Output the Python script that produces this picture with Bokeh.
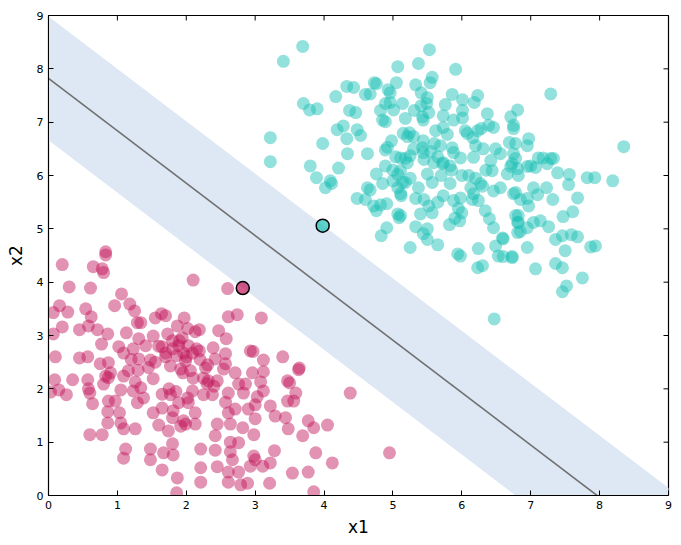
import numpy as np
from bokeh.plotting import figure
from bokeh.models import Range1d, FixedTicker
from bokeh.embed import file_html
from bokeh.resources import INLINE

red_pts = [
(0.20,4.33),(0.83,4.57),(0.83,4.51),(0.65,4.29),(0.78,4.25),(0.80,4.18),
(2.10,4.04),(2.60,3.88),(0.30,3.91),(0.61,3.89),
(1.06,3.78),(0.96,3.56),(1.18,3.59),(0.16,3.56),(0.07,3.43),(0.28,3.44),(0.54,3.50),(0.62,3.35),(1.25,3.46),(1.29,3.24),(1.34,3.24),(1.55,3.33),(1.64,3.41),(1.70,3.37),(1.97,3.33),
(2.61,3.35),(2.74,3.39),(3.09,3.33),(2.47,3.09),(2.58,2.94),(2.19,3.11),(2.13,3.07),(2.19,2.71),(2.39,2.77),(2.57,2.66),(2.93,2.71),(2.97,2.70),(3.12,2.54),(3.40,2.60),(3.64,2.39),(2.31,2.45),(2.42,2.56),(2.57,2.47),
(0.20,3.16),(0.07,3.03),(0.45,3.11),(0.58,3.18),(0.71,3.11),(0.86,3.03),(1.13,3.05),(1.31,2.94),(1.52,2.99),(0.77,2.84),(1.02,2.79),(1.09,2.67),(1.23,2.75),(1.41,2.81),(1.65,2.79),(1.73,3.03),(1.87,3.18),(1.94,2.96),(2.02,3.13),(0.10,2.60),(0.45,2.58),(0.57,2.60),(0.75,2.47),(0.87,2.49),(1.31,2.56),(1.48,2.54),
(1.80,2.90),(1.89,2.81),(1.96,2.67),(2.03,2.81),(1.86,2.62),(1.99,2.52),(1.77,2.43),(2.09,2.67),(1.92,2.37),(1.70,2.67),
(0.09,2.17),(0.35,2.17),(0.57,2.17),(0.03,1.94),(0.15,1.98),(0.26,1.89),(0.58,2.00),(0.60,1.92),(0.64,1.72),(0.80,2.09),(0.83,2.24),(0.87,2.21),(0.90,2.30),(1.05,1.98),(1.09,2.24),(1.16,2.34),(1.26,2.13),(1.23,1.96),(1.34,2.02),(1.38,1.83),(1.29,1.74),(1.52,2.19),(0.87,1.77),(0.97,1.77),(0.86,1.57),(1.03,1.55),(0.86,1.36),(1.05,1.36),(1.09,1.25),(1.26,1.25),(0.60,1.14),(0.78,1.14),(1.12,0.87),(1.09,0.70),(1.48,0.87),(1.48,0.67),(1.65,0.48),(1.80,0.97),(1.67,0.80),(1.81,0.76),(1.87,0.33),(1.86,0.05),(1.52,1.55),(1.65,1.64),(1.81,1.59),(1.77,1.89),(1.80,1.46),(1.60,1.32),(1.74,1.21),(1.89,1.74),(1.92,1.30),(1.96,1.40),(2.02,1.83),
(2.06,2.34),(2.28,2.39),(2.54,2.37),(2.71,2.30),(2.96,2.30),(3.12,2.32),(3.63,2.36),(2.32,2.15),(2.45,2.15),(2.76,2.09),(2.86,2.09),(3.08,2.13),(3.47,2.15),(3.50,2.11),(2.09,1.96),(2.25,1.89),(2.38,1.89),(2.61,1.92),(2.83,1.92),(3.03,1.85),(3.12,1.96),(3.47,1.77),(3.56,1.77),(3.59,1.92),(2.03,1.74),(2.13,1.55),(2.57,1.75),(2.61,1.55),(2.71,1.62),(2.90,1.62),(3.00,1.70),(3.22,1.68),(3.29,1.49),(3.44,1.46),(1.99,1.34),(2.13,1.34),(2.45,1.34),(2.64,1.34),(2.82,1.27),(3.00,1.44),(3.48,1.25),(3.69,1.12),(3.77,1.40),(3.85,1.27),(4.05,1.32),(2.42,1.12),(2.98,1.14),(2.21,0.87),(2.42,0.85),(2.64,1.00),(2.76,0.99),(2.64,0.82),(2.67,0.67),(2.98,0.74),(3.00,0.67),(3.28,0.84),(3.22,0.61),(3.11,0.55),(2.93,0.55),(2.76,0.44),(2.61,0.44),(2.45,0.54),(2.21,0.52),(2.21,0.25),(2.61,0.25),(2.79,0.20),(2.89,0.23),(3.21,0.23),(3.54,0.42),(3.77,0.44),(3.88,0.80),(4.12,0.61),(3.85,0.07),
(4.38,1.92),(4.95,0.80),
(1.75,2.00),(1.85,1.95),(2.30,2.10),(2.25,2.20),(2.40,2.05),(2.10,2.20),(1.95,2.30),(1.65,1.90),(2.00,2.60),(2.20,2.55),(1.60,2.80),(1.70,2.60),(1.45,2.40),(1.55,2.50),(1.30,2.35),(1.20,2.55),(2.15,2.75),(1.90,2.90),(1.80,2.75),
]

teal_pts = [
(3.69,8.42),(3.41,8.14),(5.07,8.04),(4.73,7.74),(4.76,7.72),(5.05,7.74),(4.33,7.67),(4.43,7.65),(4.17,7.48),(4.60,7.52),(4.67,7.53),(4.93,7.61),(4.96,7.55),(3.70,7.35),(3.79,7.23),(3.90,7.25),(4.37,7.22),(4.46,7.18),(4.82,7.22),(4.89,7.35),(4.96,7.37),(5.01,7.23),(5.14,7.35),(4.85,7.04),(4.89,7.01),(5.18,7.07),(4.19,6.86),(4.28,6.93),(4.48,6.86),(4.53,6.75),(4.33,6.69),(3.98,6.60),(3.22,6.71),(5.15,6.79),(5.21,6.73),(4.98,6.65),(4.92,6.53),(4.89,6.48),(4.34,6.41),(4.63,6.41),(5.04,6.35),(5.11,6.33),(3.22,6.26),(3.80,6.18),(4.21,6.14),(4.89,6.18),(4.76,6.03),(5.11,6.09),(5.07,6.02),(3.89,5.96),(4.09,5.90),(5.21,6.24),
(4.02,5.77),(4.11,5.85),(4.48,5.57),(4.63,5.77),(4.67,5.73),(4.60,5.55),(4.72,5.43),(4.76,5.34),(4.82,5.45),(4.91,5.47),(5.07,5.77),(5.12,5.62),(5.07,5.28),(5.09,5.21),(4.91,5.02),(4.83,4.87),(5.25,4.65),(5.14,5.87),
(5.53,8.36),(5.37,8.10),(5.91,7.99),(5.57,7.84),(5.54,7.74),(5.33,7.70),(5.41,7.55),(5.50,7.46),(5.86,7.52),(6.01,7.42),(6.23,7.50),(6.18,7.37),(6.37,7.16),(6.71,7.10),(6.81,7.23),(5.31,7.22),(5.41,7.31),(5.49,7.35),(5.43,7.10),(5.52,7.18),(5.44,7.04),(5.76,7.33),(5.73,7.12),(5.88,7.04),(6.01,7.22),(6.01,7.08),(5.62,6.84),(5.73,6.90),(5.79,6.77),(6.05,6.84),(6.23,6.84),(6.28,6.88),(6.39,6.94),(6.46,6.90),(6.75,6.94),(6.78,6.60),(6.69,6.62),(5.24,6.80),(5.30,6.73),(5.44,6.65),(5.43,6.52),(5.44,6.43),(5.69,6.56),(5.86,6.52),(5.88,6.43),(5.98,6.33),(6.08,6.79),(6.16,6.71),(6.20,6.56),(6.31,6.50),(6.49,6.50),(6.56,6.41),(6.75,6.41),(6.78,6.32),(6.17,6.34),(6.42,6.28),(5.18,6.32),(5.65,6.35),(5.73,6.24),(5.59,6.24),(5.83,6.18),
(5.25,6.37),(5.18,5.87),(5.11,5.66),(5.33,5.57),(5.37,5.77),(5.57,5.87),(5.50,6.03),(5.72,6.22),(5.83,5.85),(5.73,5.62),(5.88,5.53),(5.98,5.58),(5.95,5.38),(5.40,5.28),(5.52,5.43),(5.57,5.30),(5.11,5.25),(5.33,5.04),(5.50,5.00),(5.44,4.91),(5.50,4.80),(5.65,4.70),(5.82,5.08),(5.97,5.15),(6.10,6.00),(6.13,5.77),(6.17,5.66),(6.24,5.53),(6.27,5.85),(6.34,5.34),(6.40,5.19),(6.46,5.02),(6.44,6.09),(6.46,5.71),(6.56,5.77),(6.78,5.68),(6.73,6.22),(6.81,6.13),(6.66,6.03),(6.78,5.25),(6.81,5.12),(6.81,4.93),(6.59,4.83),(6.49,4.68),(6.53,4.49),(6.73,4.48),(6.24,4.63),(5.94,4.53),(5.98,4.49),(6.23,4.27),(6.30,4.31),(6.47,3.31),
(7.29,7.53),(6.75,6.88),(6.97,6.69),(6.95,6.56),(8.35,6.54),(7.11,6.33),(7.18,6.33),(7.29,6.32),(7.33,6.32),(7.24,6.22),(7.07,6.15),(6.95,6.17),(6.71,6.17),(7.39,6.05),(7.56,6.02),(7.82,5.96),(7.93,5.96),(8.19,5.90),
(6.82,6.00),(7.00,6.18),(7.55,5.83),(6.75,5.66),(6.85,5.55),(6.95,5.57),(6.97,5.43),(7.04,5.77),(7.10,5.64),(7.23,5.77),(7.32,5.55),(7.68,5.58),(7.61,5.32),(7.47,5.23),(6.82,5.25),(6.82,5.12),(7.04,5.12),(7.14,5.15),(7.26,5.04),(6.85,4.95),(6.95,5.02),(6.60,4.81),(7.36,4.80),(7.46,4.87),(7.59,4.89),(7.68,4.85),(7.87,4.66),(7.94,4.68),(7.50,4.59),(6.95,4.65),(6.60,4.48),(6.73,4.46),(7.07,4.25),(7.36,4.35),(7.46,4.27),(7.75,4.08),(7.52,3.93),(7.46,3.82),
(5.45,6.30),(5.55,6.45),(5.60,6.60),(5.30,6.50),(5.70,6.00),(5.85,6.10),(6.00,6.00),(6.20,5.95),(6.35,6.10),(6.30,5.80),(6.15,5.55),(6.00,5.30),(5.90,5.20),(5.65,5.50),(5.45,5.55),(5.25,5.95),(5.00,5.90),(4.85,5.85),(5.00,6.10),
]

red_x = [p[0] for p in red_pts]
red_y = [p[1] for p in red_pts]
teal_x = [p[0] for p in teal_pts]
teal_y = [p[1] for p in teal_pts]

sv_red = (2.82, 3.89)
sv_teal = (3.98, 5.06)

slope = -0.982          # decision boundary slope
intercept_mid = 7.82    # y-intercept of decision boundary
intercept_up = 8.98     # margin through teal support vector
intercept_low = 6.66    # margin through red support vector

ticks = list(range(0, 10))
x_max = 9
y_max = 9

RED = "#C2185B"
TEAL = "#19C0B4"
FONT = "DejaVu Sans"

p = figure(width=676, height=541, output_backend="svg", toolbar_location=None,
           x_range=Range1d(0, x_max), y_range=Range1d(0, y_max),
           min_border_left=48, min_border_right=8, min_border_top=15, min_border_bottom=46)
p.grid.visible = False
p.outline_line_color = "black"
p.outline_line_width = 1.2
p.background_fill_color = "white"

bx = np.array([0.0, 9.6])
p.varea(x=bx, y1=intercept_low + slope * bx, y2=intercept_up + slope * bx,
        fill_color="#dee8f4", fill_alpha=1.0)
p.line(bx, intercept_mid + slope * bx, line_color="#707070", line_width=1.6)

p.scatter(red_x, red_y, size=13, fill_color=RED, fill_alpha=0.47, line_color=None)
p.scatter(teal_x, teal_y, size=13, fill_color=TEAL, fill_alpha=0.47, line_color=None)
p.scatter([sv_red[0]], [sv_red[1]], size=13, fill_color=RED, fill_alpha=0.7,
          line_color="black", line_width=1.5)
p.scatter([sv_teal[0]], [sv_teal[1]], size=13, fill_color=TEAL, fill_alpha=0.7,
          line_color="black", line_width=1.5)

# inward ticks on the top and right edges (classic style)
p.ray(x=ticks, y=[y_max] * len(ticks), length=5, length_units="screen",
      angle=-np.pi / 2, line_color="black", line_width=1)
p.ray(x=[x_max] * len(ticks), y=ticks, length=5, length_units="screen",
      angle=np.pi, line_color="black", line_width=1)

for ax in (p.xaxis[0], p.yaxis[0]):
    ax.ticker = FixedTicker(ticks=ticks)
    ax.major_tick_in = 5
    ax.major_tick_out = 0
    ax.minor_tick_line_color = None
    ax.axis_line_color = "black"
    ax.major_label_text_font = FONT
    ax.major_label_text_font_size = "11px"
    ax.major_label_text_color = "black"
    ax.axis_label_text_font = FONT
    ax.axis_label_text_font_size = "17px"
    ax.axis_label_text_font_style = "normal"
    ax.axis_label_text_color = "black"
    ax.major_label_standoff = 5

p.xaxis.axis_label = "x1"
p.yaxis.axis_label = "x2"
p.yaxis.major_label_orientation = "horizontal"
p.xaxis.axis_label_standoff = 5
p.yaxis.axis_label_standoff = 8

open("out.html", "w").write(file_html(p, INLINE))
